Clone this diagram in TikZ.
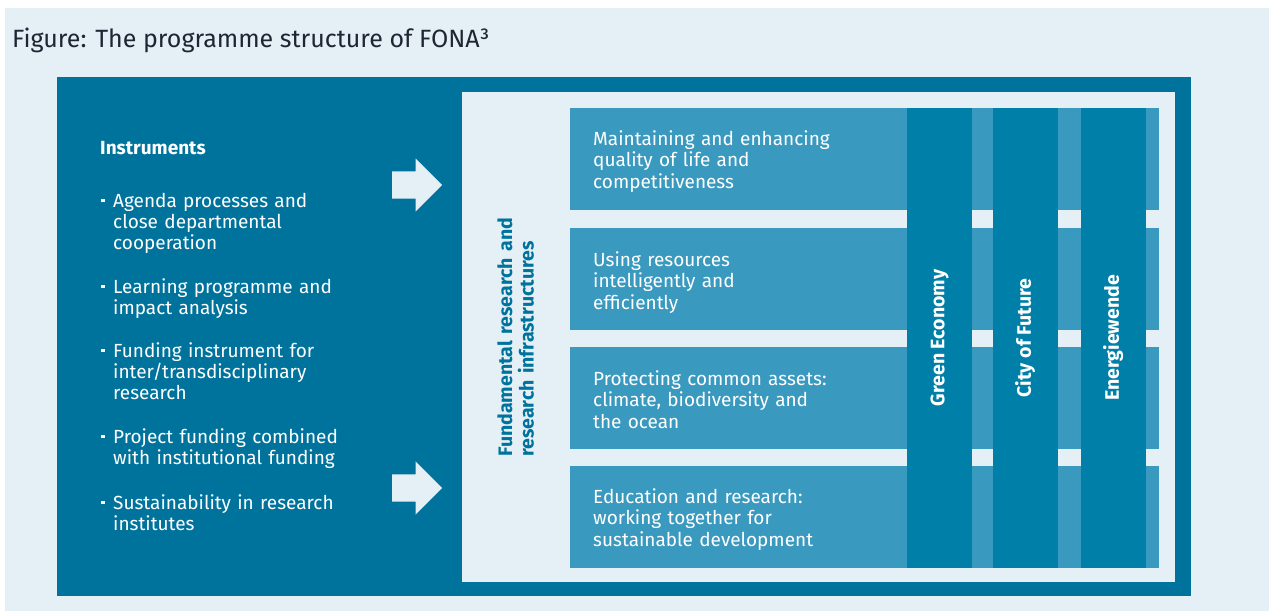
\documentclass[tikz,border=0pt]{standalone}
\usepackage{fontspec}
\setmainfont{Fira Sans}
\usetikzlibrary{positioning,shapes.arrows}

\definecolor{fonabg}{HTML}{E5EFF6}
\definecolor{fonadark}{HTML}{00739D}
\definecolor{fonacol}{HTML}{0080A9}
\definecolor{fonarow}{HTML}{3A99BF}
\definecolor{fonatitle}{HTML}{1F2633}

\newcommand{\instbul}{\makebox[12pt][l]{\raisebox{5pt}{\rule{3.5pt}{3.5pt}}}}
\newcommand{\instgap}{\hspace*{12pt}}

\begin{document}
\begin{tikzpicture}[x=1pt,y=-1pt,node distance=17pt,
  panel/.style={anchor=north west, inner sep=0pt},
  rowbox/.style={fill=fonarow, minimum width=589pt, minimum height=102pt, anchor=north west, inner sep=0pt},
  rowtext/.style={text=white, anchor=base west, align=left, text width=260pt, inner sep=0pt, font=\fontsize{19}{21.5}\selectfont},
  instr/.style={text=white, anchor=base west, align=left, text width=280pt, inner sep=0pt, font=\fontsize{19}{21.3}\selectfont},
  theme/.style={fill=fonacol, text=white, rotate=90, minimum width=460pt, minimum height=65pt, inner sep=0pt, font=\fontsize{19.5}{21}\selectfont\bfseries},
  push/.style={single arrow, fill=fonabg, minimum height=50pt, inner xsep=0pt, inner ysep=13.5pt, single arrow head extend=13pt, anchor=tail}]
  \useasboundingbox (0,0) rectangle (1269,611);
  \fill[white] (0,0) rectangle (1269,611);
  \fill[fonabg] (5,8) rectangle (1269,611);

  \node[anchor=base west, inner sep=0pt, text=fonatitle, font=\fontsize{25}{29}\selectfont] (title) at (12,47) {Figure: The programme structure of FONA³};

  % panels
  \node[panel, fill=fonadark, minimum width=1134pt, minimum height=519pt] (outer) at (57,77) {};
  \node[panel, fill=fonabg, minimum width=713pt, minimum height=490pt] (inner) at (462,92) {};

  % instruments
  \node[instr, font=\fontsize{19}{21.3}\selectfont\bfseries] (head) at (100,154) {Instruments};
  \node[instr] (inst1) at (101,207) {\instbul Agenda processes and\\\instgap close departmental\\\instgap cooperation};
  \node[instr] (inst2) at (101,293) {\instbul Learning programme and\\\instgap impact analysis};
  \node[instr] (inst3) at (101,357) {\instbul Funding instrument for\\\instgap inter/transdisciplinary\\\instgap research};
  \node[instr] (inst4) at (101,443) {\instbul Project funding combined\\\instgap with institutional funding};
  \node[instr] (inst5) at (101,509) {\instbul Sustainability in research\\\instgap institutes};

  \node[push] (arrowup) at (392,185) {};
  \node[push] (arrowdown) at (392,488) {};

  \node[rotate=90, anchor=base west, inner sep=0pt, align=left, text width=280pt, text=fonadark, font=\fontsize{19.5}{21.5}\selectfont\bfseries] (basis) at (512,457) {Fundamental research and\\research infrastructures};

  % goals
  \node[rowbox] (row1) at (570,108) {};
  \node[rowbox, below=of row1] (row2) {};
  \node[rowbox, below=of row2] (row3) {};
  \node[rowbox, below=of row3] (row4) {};

  \node[rowtext] (goal1) at (593,145) {Maintaining and enhancing\\quality of life and\\competitiveness};
  \node[rowtext] (goal2) at (593,266) {Using resources\\intelligently and\\efficiently};
  \node[rowtext] (goal3) at (593,385) {Protecting common assets:\\climate, biodiversity and\\the ocean};
  \node[rowtext] (goal4) at (593,503) {Education and research:\\working together for\\sustainable development};

  % themes
  \node[theme] (green) at (939.5,338) {Green Economy};
  \node[theme] (city) at (1025,338) {City of Future};
  \node[theme] (energy) at (1113,338) {Energiewende};
\end{tikzpicture}
\end{document}
